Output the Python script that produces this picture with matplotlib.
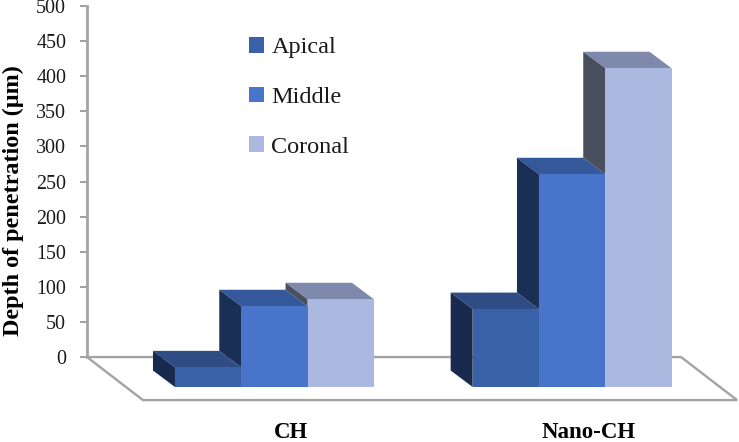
import matplotlib
matplotlib.use("Agg")
import matplotlib.pyplot as plt
from matplotlib.patches import Polygon

plt.rcParams['font.family'] = ['Liberation Serif', 'DejaVu Serif']

groups = ['CH', 'Nano-CH']
series = ['Apical', 'Middle', 'Coronal']
apical = [28, 111]
middle = [115, 303]
coronal = [125, 454]
y_ticks = [0, 50, 100, 150, 200, 250, 300, 350, 400, 450, 500]

front_colors = ['#3A62A8', '#4875C9', '#ABB8DF']
top_colors = ['#2F4C85', '#34589A', '#7F89AB']
side_colors = ['#182B4F', '#1A2F55', '#4A4F5E']
grey = '#A3A3A3'

# bars are 1 unit wide, y is in chart units (um)
group_centers = [1.5, 5.99]
base = -42.7
depth_x = -0.332
depth_y = 23.5

fig = plt.figure(figsize=(7.39, 4.42), dpi=100)
ax = fig.add_axes([87 / 739, 0, 652 / 739, 1])
ax.set_xlim(-1.327, 8.507)
ax.set_ylim(-121, 508.5)

# floor
floor_x = [-1.327, -0.483, 8.477, 7.633, -1.327]
floor_y = [0, -61.3, -61.3, 0, 0]
ax.plot(floor_x, floor_y, color=grey, lw=1.7, zorder=1, clip_on=False, solid_joinstyle='miter')

# 3D bars, drawn left to right so that each one covers the previous one
z = 2
for g, center in enumerate(group_centers):
    values = [apical[g], middle[g], coronal[g]]
    for s, value in enumerate(values):
        left = center + s - 1.5
        right = left + 1
        top = base + value
        # side face only shows above the bar standing next to it
        side_low = base if s == 0 else base + min(values[s - 1], value)
        ax.add_patch(Polygon([(left, top), (right, top), (right + depth_x, top + depth_y),
                              (left + depth_x, top + depth_y)], closed=True,
                             facecolor=top_colors[s], edgecolor='none', zorder=z))
        ax.add_patch(Polygon([(left, side_low), (left, top), (left + depth_x, top + depth_y),
                              (left + depth_x, side_low + depth_y)], closed=True,
                             facecolor=side_colors[s], edgecolor='none', zorder=z))
        ax.bar(center + s - 1, value, width=1, bottom=base, color=front_colors[s],
               label=series[s] if g == 0 else None, zorder=z + 1)
        z += 2

for center, name in zip(group_centers, groups):
    ax.text(center + 0.25, -107, name, ha='center', va='center', fontsize=16.5, fontweight='bold', color='black')

ax.set_xticks([])
ax.set_yticks(y_ticks)
ax.tick_params(axis='y', length=5, width=1.5, color=grey, pad=10, labelsize=14.4, labelcolor='#1a1a1a')
for name in ['top', 'right', 'bottom']:
    ax.spines[name].set_visible(False)
ax.spines['left'].set_bounds(0, 500)
ax.spines['left'].set_linewidth(2)
ax.spines['left'].set_color(grey)
ax.patch.set_alpha(0)

fig.text(13 / 739, 1 - 201 / 442, 'Depth of penetration (µm)', rotation=90, ha='center', va='center',
         fontsize=17.4, fontweight='bold')

ax.legend(loc='upper left', bbox_to_anchor=(162 / 652, 1 - 37 / 442), frameon=False, fontsize=17.5,
          handlelength=0.62, handleheight=0.62, handletextpad=0.3, labelspacing=1.165,
          borderpad=0, borderaxespad=0, labelcolor='#1a1a1a')

fig.savefig('out.png', dpi=100)
